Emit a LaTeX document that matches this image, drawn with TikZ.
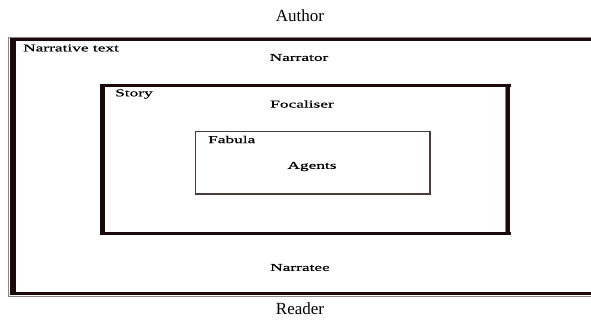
\documentclass[tikz,border=0pt]{standalone}
\usepackage{fontspec}
\setmainfont{Liberation Serif}
\newfontfamily\widefont[FakeStretch=1.65,FakeBold=0.6]{Liberation Serif}
\definecolor{frame}{HTML}{1A0A0A}
\definecolor{shade}{HTML}{8C8484}
\tikzset{
  outerlbl/.style={font=\fontsize{17}{17}\selectfont, inner sep=0pt},
  innerlbl/.style={font=\widefont\fontsize{10.5}{10.5}\selectfont, inner sep=0pt},
  heavy/.style={draw=frame, line width=#1},
  shadow/.style={draw=shade, line width=#1},
}
\begin{document}
\begin{tikzpicture}[x=1pt,y=-1pt]
\useasboundingbox (0,0) rectangle (591,320);
% outer frame (narrative text)
\draw[shadow=1.2] (9,37.5) -- (600,37.5);
\draw[shadow=1.5] (8.5,37) -- (8.5,297);
\draw[shadow=1.8] (8.5,296.5) -- (600,296.5);
\draw[heavy=3] (10,39.5) -- (600,39.5);
\draw[heavy=5.5] (13,38) -- (13,295);
\draw[heavy=3] (10,293.5) -- (600,293.5);
% story frame
\draw[shadow=1] (104.5,87) -- (104.5,232);
\draw[shadow=1] (505.5,87) -- (505.5,232);
\draw[heavy=3] (100,85.5) -- (510.5,85.5);
\draw[heavy=5] (102.5,84) -- (102.5,235);
\draw[heavy=4.5] (508,84) -- (508,235);
\draw[heavy=3] (100,233.5) -- (510.5,233.5);
% fabula frame
\draw[draw=frame!80!white, line width=1.3] (195.5,131.5) rectangle (430,194);
% labels
\node[outerlbl] (author) at (300,16) {Author};
\node[outerlbl] (reader) at (300,309) {Reader};
\node[innerlbl, anchor=west] (ntext) at (23,48) {Narrative text};
\node[innerlbl] (narrator) at (299,57.5) {Narrator};
\node[innerlbl, anchor=west] (story) at (115,94) {Story};
\node[innerlbl] (focal) at (302,104) {Focaliser};
\node[innerlbl, anchor=west] (fabula) at (208,139.5) {Fabula};
\node[innerlbl] (agents) at (312,166.5) {Agents};
\node[innerlbl] (narratee) at (300,267.5) {Narratee};
\end{tikzpicture}
\end{document}
